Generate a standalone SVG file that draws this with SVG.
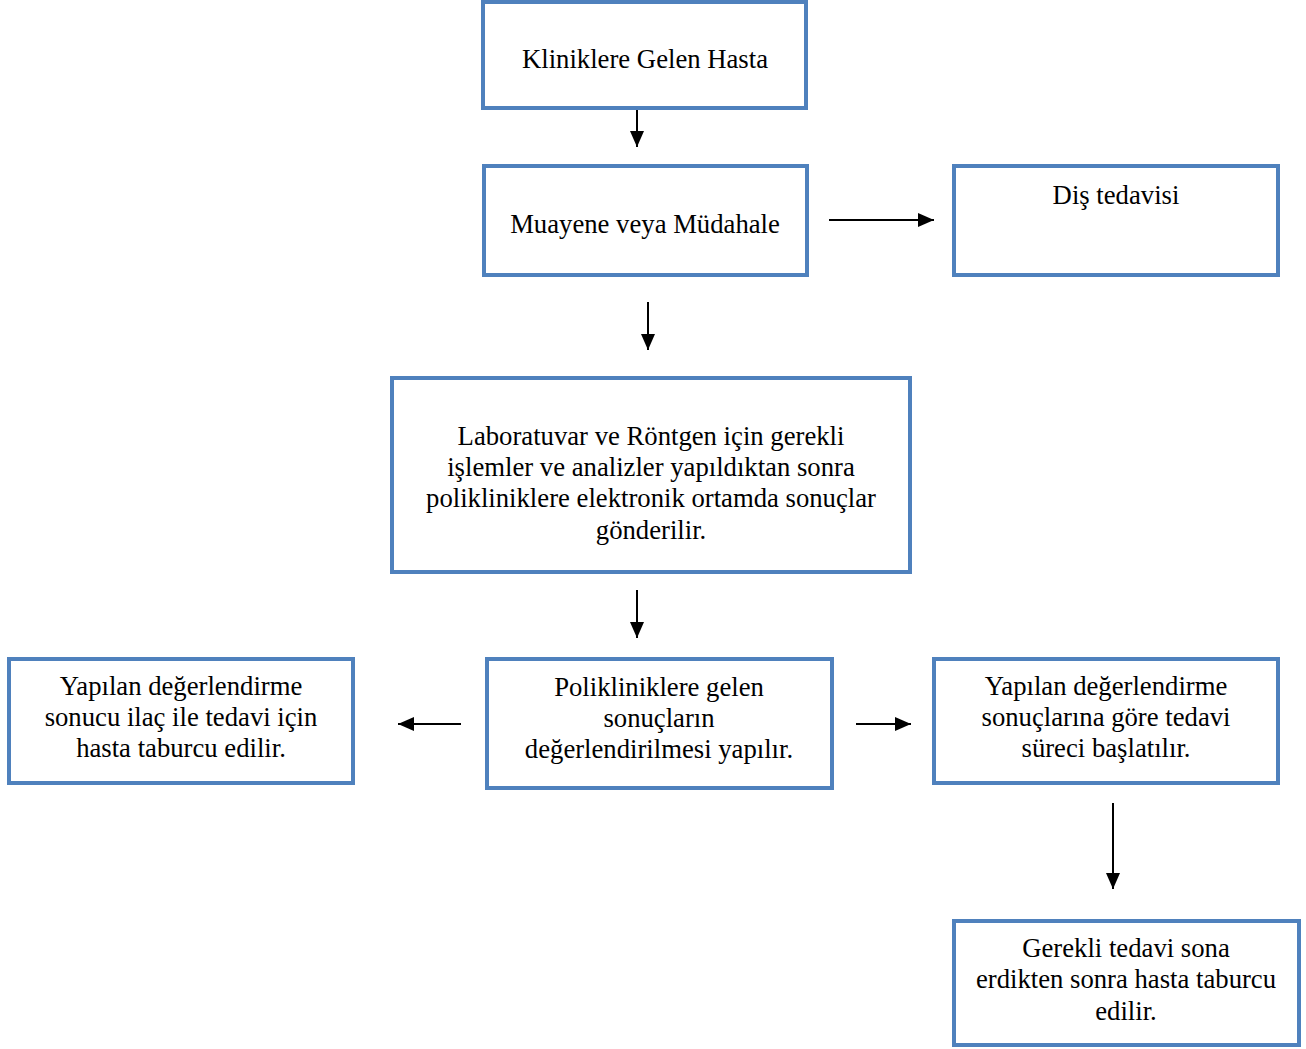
<svg xmlns="http://www.w3.org/2000/svg" width="1306" height="1049" viewBox="0 0 1306 1049">
<defs>
<style>
.box{fill:#fff;stroke:#4f81bd;stroke-width:4}
.t{font-family:"Liberation Serif","Times New Roman",serif;font-size:26.7px;fill:#000;text-anchor:middle}
.c{stroke:#000;stroke-width:2;fill:none}
</style>
<marker id="ah" markerUnits="userSpaceOnUse" markerWidth="16" markerHeight="14" viewBox="0 0 16 14" refX="16" refY="7" orient="auto">
<path d="M0,0 L16,7 L0,14 Z" fill="#000"/>
</marker>
</defs>
<rect width="1306" height="1049" fill="#fff"/>
<g id="n1"><rect class="box" x="483" y="2" width="323" height="106"/><text class="t" x="645" y="68">Kliniklere Gelen Hasta</text></g>
<g id="n2"><rect class="box" x="484" y="166" width="323" height="109"/><text class="t" x="645" y="233">Muayene veya Müdahale</text></g>
<g id="n3"><rect class="box" x="954" y="166" width="324" height="109"/><text class="t" x="1116" y="204">Diş tedavisi</text></g>
<g id="n4"><rect class="box" x="392" y="378" width="518" height="194"/><text class="t" x="651"><tspan x="651" y="445">Laboratuvar ve Röntgen için gerekli</tspan><tspan x="651" y="476">işlemler ve analizler yapıldıktan sonra</tspan><tspan x="651" y="507">polikliniklere elektronik ortamda sonuçlar</tspan><tspan x="651" y="539">gönderilir.</tspan></text></g>
<g id="n5"><rect class="box" x="487" y="659" width="345" height="129"/><text class="t" x="659"><tspan x="659" y="696">Polikliniklere gelen</tspan><tspan x="659" y="727">sonuçların</tspan><tspan x="659" y="758">değerlendirilmesi yapılır.</tspan></text></g>
<g id="n6"><rect class="box" x="9" y="659" width="344" height="124"/><text class="t" x="181"><tspan x="181" y="695">Yapılan değerlendirme</tspan><tspan x="181" y="726">sonucu ilaç ile tedavi için</tspan><tspan x="181" y="757">hasta taburcu edilir.</tspan></text></g>
<g id="n7"><rect class="box" x="934" y="659" width="344" height="124"/><text class="t" x="1106"><tspan x="1106" y="695">Yapılan değerlendirme</tspan><tspan x="1106" y="726">sonuçlarına göre tedavi</tspan><tspan x="1106" y="757">süreci başlatılır.</tspan></text></g>
<g id="n8"><rect class="box" x="954" y="921" width="345" height="124"/><text class="t" x="1126"><tspan x="1126" y="957">Gerekli tedavi sona</tspan><tspan x="1126" y="988">erdikten sonra hasta taburcu</tspan><tspan x="1126" y="1020">edilir.</tspan></text></g>
<g id="connectors">
<line class="c" x1="637" y1="110" x2="637" y2="147" marker-end="url(#ah)"/>
<line class="c" x1="829" y1="220" x2="934" y2="220" marker-end="url(#ah)"/>
<line class="c" x1="648" y1="302" x2="648" y2="350" marker-end="url(#ah)"/>
<line class="c" x1="637" y1="590" x2="637" y2="638" marker-end="url(#ah)"/>
<line class="c" x1="461" y1="724" x2="398" y2="724" marker-end="url(#ah)"/>
<line class="c" x1="856" y1="724" x2="911" y2="724" marker-end="url(#ah)"/>
<line class="c" x1="1113" y1="803" x2="1113" y2="889" marker-end="url(#ah)"/>
</g>
</svg>
